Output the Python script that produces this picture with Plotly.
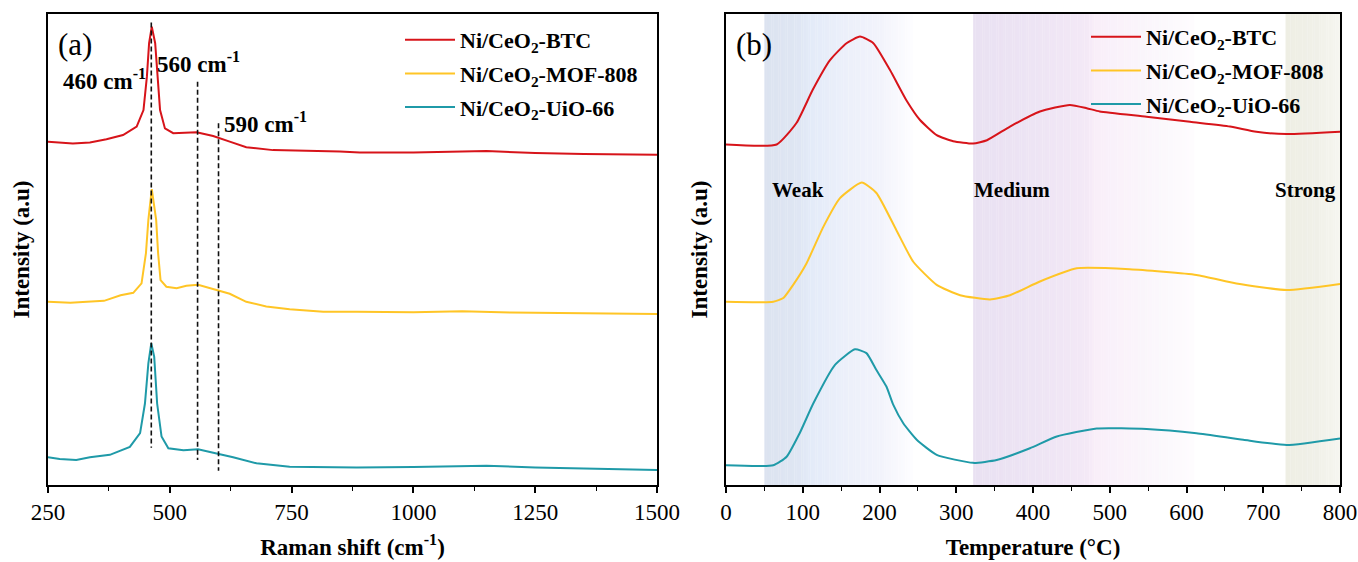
import plotly.graph_objects as go

# ---------------- Panel (a): Raman ----------------
raman_btc_x = [250, 301, 336, 370, 404, 432, 446, 453, 457.5, 463, 470, 474.5, 480, 490, 507, 555, 589, 623, 657, 712, 781, 849, 890, 1000, 1150, 1250, 1350, 1500]
raman_btc_y = [72.9, 72.5, 72.7, 73.4, 74.3, 76.1, 79.6, 86.7, 93.8, 97.3, 93.8, 86.7, 79.6, 75.7, 74.7, 74.9, 74.1, 72.9, 71.7, 71.1, 71.0, 70.8, 70.6, 70.6, 70.9, 70.5, 70.3, 70.1]

raman_mof_x = [250, 296, 330, 365, 399, 425, 442, 451, 456, 463, 472, 476, 481, 493, 514, 534, 558, 596, 623, 657, 698, 746, 815, 884, 1000, 1100, 1200, 1300, 1500]
raman_mof_y = [38.9, 38.7, 38.9, 39.1, 40.3, 40.8, 42.8, 49.2, 56.3, 62.8, 56.3, 49.2, 43.5, 42.1, 41.8, 42.3, 42.5, 41.4, 40.6, 38.9, 37.9, 37.3, 36.8, 36.8, 36.7, 36.9, 36.6, 36.5, 36.3]

raman_uio_x = [250, 274, 308, 336, 377, 418, 439, 449, 456, 462, 468, 474, 483, 497, 528, 558, 596, 630, 678, 746, 884, 1000, 1150, 1250, 1350, 1500]
raman_uio_y = [5.9, 5.5, 5.3, 5.9, 6.4, 8.1, 11.0, 17.3, 25.8, 30.1, 27.2, 17.3, 10.3, 7.8, 7.4, 7.6, 6.7, 5.9, 4.6, 3.9, 3.7, 3.8, 4.1, 3.7, 3.5, 3.2]

peak_pos = [462, 557, 600]
peak_top = [98.2, 85.6, 76.8]
peak_bottom = [7.9, 5.3, 3.0]
peak_labels = ["460 cm<sup>-1</sup>", "560 cm<sup>-1</sup>", "590 cm<sup>-1</sup>"]

# ---------------- Panel (b): H2-TPR ----------------
tpr_btc_x = [0, 66, 92, 113, 135.5, 157, 174.6, 192, 213.7, 235, 252.8, 274.5, 296, 322, 340, 370, 409, 448, 470, 487, 548, 604.6, 656.6, 691, 730.5, 800]
tpr_btc_y = [72.3, 72.3, 76.9, 83.9, 90.2, 93.8, 95.2, 93.8, 88.1, 81.7, 77.5, 74.3, 73.0, 72.5, 73.2, 76.1, 79.3, 80.7, 80.0, 79.3, 78.2, 77.1, 76.1, 75.0, 74.5, 75.0]

tpr_mof_x = [0, 61.6, 74.7, 87.5, 105, 126.8, 148.5, 176.8, 196, 222, 244, 274.5, 305, 344, 370, 409, 457, 526, 613, 665, 730.5, 800]
tpr_mof_y = [38.9, 38.9, 39.7, 42.5, 47.1, 54.8, 60.9, 64.2, 62.0, 54.1, 47.4, 42.5, 40.3, 39.4, 40.3, 43.2, 46.0, 45.8, 44.6, 42.8, 41.4, 42.7]

tpr_uio_x = [0, 61.6, 79, 96, 113.7, 142, 168, 183, 196, 209, 218, 231, 248.5, 274.5, 322, 352.7, 396, 431, 483, 548, 613, 674, 730.5, 800]
tpr_uio_y = [4.2, 4.2, 6.0, 11.0, 17.3, 25.5, 28.8, 28.0, 24.4, 20.9, 17.0, 13.1, 9.6, 6.4, 4.7, 5.3, 7.8, 10.3, 12.0, 11.9, 11.0, 9.6, 8.5, 9.9]

region_labels = ["Weak", "Medium", "Strong"]
region_label_x = [57, 320, 798]

series_names = ["Ni/CeO<sub>2</sub>-BTC", "Ni/CeO<sub>2</sub>-MOF-808", "Ni/CeO<sub>2</sub>-UiO-66"]
colors = ["#d7141a", "#ffc526", "#1f9aa8"]

FONT = "Liberation Serif, Times New Roman, serif"

fig = go.Figure()

raman = [(raman_btc_x, raman_btc_y), (raman_mof_x, raman_mof_y), (raman_uio_x, raman_uio_y)]
tpr = [(tpr_btc_x, tpr_btc_y), (tpr_mof_x, tpr_mof_y), (tpr_uio_x, tpr_uio_y)]

for i, (xs, ys) in enumerate(raman):
    fig.add_trace(go.Scatter(x=xs, y=ys, mode="lines", name="<b>%s</b>" % series_names[i],
                             line=dict(color=colors[i], width=2),
                             xaxis="x", yaxis="y", legend="legend", legendgroup="a%d" % i))

for p, t, b in zip(peak_pos, peak_top, peak_bottom):
    fig.add_trace(go.Scatter(x=[p, p], y=[t, b], mode="lines", showlegend=False,
                             line=dict(color="#111111", width=1.6, dash="5px,3px"),
                             xaxis="x", yaxis="y", hoverinfo="skip"))

for i, (xs, ys) in enumerate(tpr):
    fig.add_trace(go.Scatter(x=xs, y=ys, mode="lines", name="<b>%s</b>" % series_names[i],
                             line=dict(color=colors[i], width=2, shape="spline", smoothing=0.5),
                             xaxis="x2", yaxis="y2", legend="legend2", legendgroup="b%d" % i))

# Gradient bands in panel (b)
def hex2rgb(h):
    h = h.lstrip("#")
    return tuple(int(h[k:k + 2], 16) for k in (0, 2, 4))

bands = [
    [(50, "#dce3f0"), (95, "#dfe6f3"), (110, "#e3ebf8"), (150, "#ebeffa"), (200, "#f2f3fb"), (243, "#fdfdff")],
    [(322, "#e9e1f2"), (400, "#ede4f4"), (470, "#f3e8f6"), (480, "#f9eef9"), (540, "#faf5fb"), (610, "#fefcfe")],
    [(729, "#eeeee4"), (770, "#f0f0e8"), (800, "#f6f6f0")],
]
shapes = []
for stops in bands:
    for (t0, c0), (t1, c1) in zip(stops[:-1], stops[1:]):
        n = max(1, int((t1 - t0) / 3))
        r0, r1 = hex2rgb(c0), hex2rgb(c1)
        for k in range(n):
            f = (k + 0.5) / n
            col = tuple(int(round(r0[j] + (r1[j] - r0[j]) * f)) for j in range(3))
            shapes.append(dict(type="rect", xref="x2", yref="y2 domain",
                               x0=t0 + (t1 - t0) * k / n, x1=t0 + (t1 - t0) * (k + 1) / n + 0.3,
                               y0=0, y1=1, fillcolor="rgb(%d,%d,%d)" % col,
                               line=dict(width=0), layer="below"))

annotations = [
    dict(text="(a)", xref="x domain", yref="y domain", x=0.013, y=0.935, xanchor="left", yanchor="middle",
         showarrow=False, font=dict(family=FONT, size=31, color="black")),
    dict(text="(b)", xref="x2 domain", yref="y2 domain", x=0.013, y=0.935, xanchor="left", yanchor="middle",
         showarrow=False, font=dict(family=FONT, size=31, color="black")),
]
label_anchor = [("right", 455, 86.0), ("left", 470, 89.6), ("left", 608, 77.0)]
for (anc, lx, ly), txt in zip(label_anchor, peak_labels):
    annotations.append(dict(text="<b>%s</b>" % txt, x=lx, y=ly, xref="x", yref="y", xanchor=anc,
                            yanchor="middle", showarrow=False,
                            font=dict(family=FONT, size=23, color="black")))
for txt, tx, anc in zip(region_labels, region_label_x, ["left", "left", "right"]):
    annotations.append(dict(text="<b>%s</b>" % txt, x=tx, y=62.7, xref="x2", yref="y2", xanchor=anc,
                            yanchor="middle", showarrow=False,
                            font=dict(family=FONT, size=21, color="black")))

axis_common = dict(showline=True, linecolor="black", linewidth=1.6, mirror=True,
                   ticks="outside", ticklen=6, tickwidth=1.5, tickcolor="black",
                   showgrid=False, zeroline=False, automargin=False,
                   tickfont=dict(family=FONT, size=23, color="black"))
yaxis_common = dict(domain=[77 / 562, 548 / 562], range=[0, 100], showticklabels=False, ticks="",
                    showline=True, linecolor="black", linewidth=1.6, mirror=True, showgrid=False,
                    zeroline=False, automargin=False)

fig.update_layout(
    width=1358, height=562,
    margin=dict(l=0, r=0, t=0, b=0),
    paper_bgcolor="white", plot_bgcolor="white",
    showlegend=True,
    xaxis=dict(domain=[48 / 1358, 657 / 1358], range=[250, 1500], tickvals=[250, 500, 750, 1000, 1250, 1500],
               minor=dict(ticks="outside", ticklen=4, tickwidth=1.2, tickcolor="black", dtick=125, tick0=250),
               title=dict(text="<b>Raman shift (cm<sup>-1</sup>)</b>", standoff=14,
                          font=dict(family=FONT, size=23, color="black")),
               tickprefix="<b>", ticksuffix="</b>", anchor="y", **axis_common),
    yaxis=dict(title=dict(text="<b>Intensity (a.u)</b>", standoff=10,
                          font=dict(family=FONT, size=23, color="black")), anchor="x", **yaxis_common),
    xaxis2=dict(domain=[726 / 1358, 1340 / 1358], range=[0, 800], tickvals=[0, 100, 200, 300, 400, 500, 600, 700, 800],
                minor=dict(ticks="outside", ticklen=4, tickwidth=1.2, tickcolor="black", dtick=50, tick0=0),
                title=dict(text="<b>Temperature (°C)</b>", standoff=14,
                           font=dict(family=FONT, size=23, color="black")),
                tickprefix="<b>", ticksuffix="</b>", anchor="y2", **axis_common),
    yaxis2=dict(title=dict(text="<b>Intensity (a.u)</b>", standoff=10,
                           font=dict(family=FONT, size=23, color="black")), anchor="x2", **yaxis_common),
    legend=dict(x=400 / 1358, y=1 - 19 / 562, xanchor="left", yanchor="top", bgcolor="rgba(0,0,0,0)",
                font=dict(family=FONT, size=22, color="black"), tracegroupgap=2, itemwidth=50),
    legend2=dict(x=1086 / 1358, y=1 - 16 / 562, xanchor="left", yanchor="top", bgcolor="rgba(0,0,0,0)",
                 font=dict(family=FONT, size=22, color="black"), tracegroupgap=2, itemwidth=50),
    shapes=shapes,
    annotations=annotations,
)

fig.write_html("out.html")
